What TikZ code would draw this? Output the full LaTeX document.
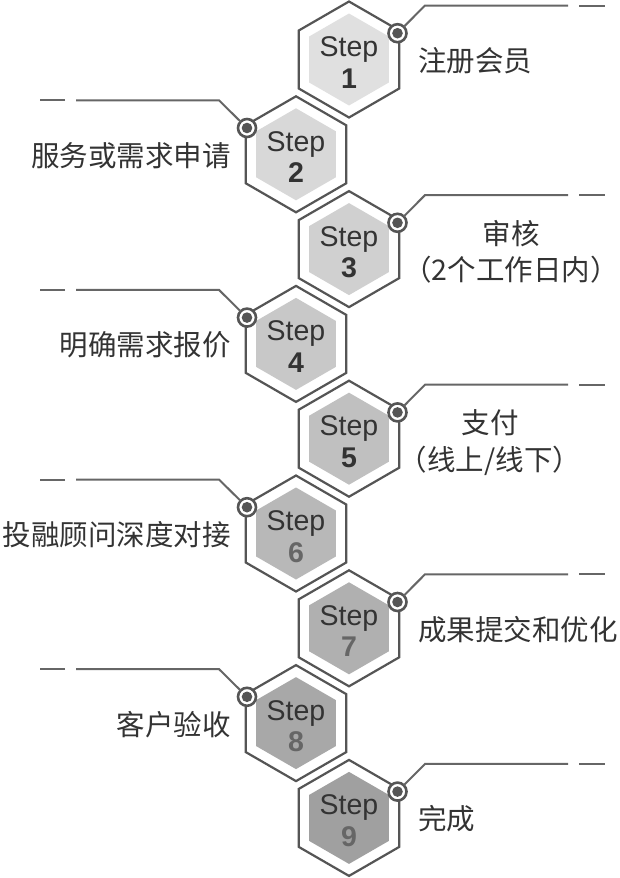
\documentclass[tikz,border=0pt]{standalone}
\usepackage{fontspec}
\setmainfont{Liberation Sans}
\newfontfamily\cjk{Noto Sans CJK SC}
\usetikzlibrary{shapes.geometric}
\definecolor{hexline}{HTML}{555555}
\definecolor{connline}{HTML}{666666}
\definecolor{txt}{HTML}{333333}
\definecolor{numlight}{HTML}{666666}
\definecolor{f1}{HTML}{E0E0E0}
\definecolor{f2}{HTML}{D8D8D8}
\definecolor{f3}{HTML}{D0D0D0}
\definecolor{f4}{HTML}{C8C8C8}
\definecolor{f5}{HTML}{C0C0C0}
\definecolor{f6}{HTML}{B8B8B8}
\definecolor{f7}{HTML}{B0B0B0}
\definecolor{f8}{HTML}{A8A8A8}
\definecolor{f9}{HTML}{A0A0A0}
\begin{document}
\begin{tikzpicture}[x=1pt,y=-1pt,
  hexouter/.style={regular polygon, regular polygon sides=6, shape border rotate=30,
    minimum size=116pt, inner sep=0pt, outer sep=0pt, draw=hexline, line width=2.2pt, fill=white},
  hexinner/.style={regular polygon, regular polygon sides=6, shape border rotate=30,
    minimum size=92pt, inner sep=0pt, outer sep=0pt},
  steptext/.style={anchor=base, inner sep=0pt, text=txt, font=\fontsize{28.5}{30}\selectfont},
  numtext/.style={anchor=base, inner sep=0pt, font=\fontsize{28.5}{30}\selectfont\bfseries},
  marker/.style={circle, draw=hexline, line width=2.6pt, fill=white, minimum size=18pt, inner sep=0pt, outer sep=0pt},
  dotc/.style={fill=hexline},
  conn/.style={draw=connline, line width=2pt},
  lab/.style={inner sep=0pt, text=txt, font=\cjk\fontsize{28.5}{34}\selectfont}
]
\useasboundingbox (0,0) rectangle (620,878);
\foreach \k/\cx/\fc/\nc in {1/349/f1/txt, 2/296/f2/txt, 3/349/f3/txt, 4/296/f4/txt,
  5/349/f5/txt, 6/296/f6/numlight, 7/349/f7/numlight, 8/296/f8/numlight, 9/349/f9/numlight}{
  \pgfmathsetmacro\cy{59.5+(\k-1)*94.8}
  \node[hexouter] (h\k) at (\cx,\cy) {};
  \node[hexinner, fill=\fc] (i\k) at (\cx,\cy) {};
  \node[steptext] (s\k) at (\cx,\cy-3) {Step};
  \node[numtext, text=\nc] (n\k) at (\cx,\cy+28.5) {\k};
}
\foreach \k in {1,3,5,7,9}{
  \pgfmathsetmacro\cy{59.5+(\k-1)*94.8}
  \node[marker] (m\k) at (397.5,\cy-26.3) {};
  \coordinate (b\k) at (425,\cy-54);
  \coordinate (e\k) at (568,\cy-54);
  \coordinate (da\k) at (579,\cy-54);
  \coordinate (db\k) at (605,\cy-54);
  \draw[conn] (m\k) -- (b\k) -- (e\k);
  \draw[conn] (da\k) -- (db\k);
  \fill[dotc] (m\k.center) circle (5.3);
}
\foreach \k in {2,4,6,8}{
  \pgfmathsetmacro\cy{59.5+(\k-1)*94.8}
  \node[marker] (m\k) at (247,\cy-26.3) {};
  \coordinate (b\k) at (219,\cy-54);
  \coordinate (e\k) at (76,\cy-54);
  \coordinate (da\k) at (65,\cy-54);
  \coordinate (db\k) at (40,\cy-54);
  \draw[conn] (m\k) -- (b\k) -- (e\k);
  \draw[conn] (da\k) -- (db\k);
  \fill[dotc] (m\k.center) circle (5.3);
}
\node[lab, anchor=base west] (l1) at (418,71.5) {注册会员};
\node[lab, anchor=base east] (l2) at (231,166.3) {服务或需求申请};
\node[lab, anchor=base] (l3a) at (511,244.1) {审核};
\node[lab, anchor=base] (l3b) at (511,280.6) {（2个工作日内）};
\node[lab, anchor=base east] (l4) at (231,355.9) {明确需求报价};
\node[lab, anchor=base] (l5a) at (490,433.7) {支付};
\node[lab, anchor=base] (l5b) at (490,470.2) {（线上/线下）};
\node[lab, anchor=base east] (l6) at (231,545.5) {投融顾问深度对接};
\node[lab, anchor=base west] (l7) at (418,640.3) {成果提交和优化};
\node[lab, anchor=base east] (l8) at (231,735.1) {客户验收};
\node[lab, anchor=base west] (l9) at (418,829.9) {完成};
\end{tikzpicture}
\end{document}
